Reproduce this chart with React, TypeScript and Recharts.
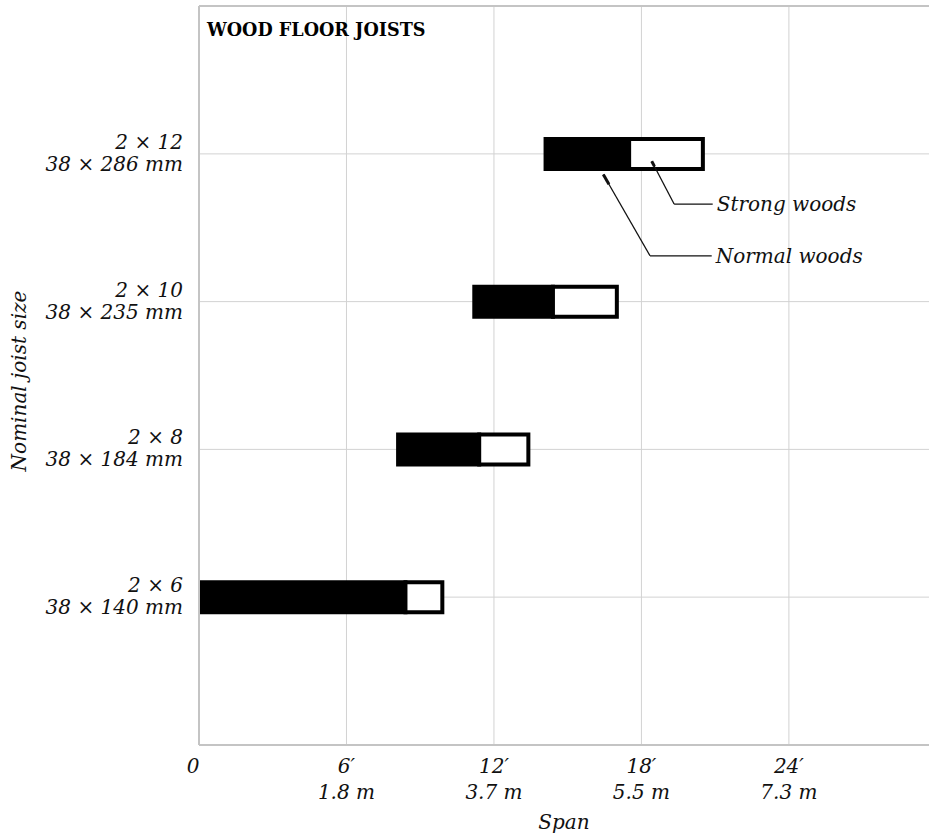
import * as React from "react";
import {
  ComposedChart,
  Bar,
  XAxis,
  YAxis,
  CartesianGrid,
  ReferenceLine,
} from "recharts";

const SIZES = ["2 × 12", "2 × 10", "2 × 8", "2 × 6"];
const METRIC_SIZES = ["38 × 286 mm", "38 × 235 mm", "38 × 184 mm", "38 × 140 mm"];
// span in feet: where the bar starts, where normal woods stop, where strong woods stop
const SPAN_START = [14.1, 11.2, 8.1, 0];
const NORMAL_END = [17.5, 14.4, 11.4, 8.4];
const STRONG_END = [20.5, 17.0, 13.4, 9.9];

const X_TICKS = [0, 6, 12, 18, 24];
const FEET_LABELS = ["0", "6′", "12′", "18′", "24′"];
const METER_LABELS = ["", "1.8 m", "3.7 m", "5.5 m", "7.3 m"];

// leader lines as [span ft, row] points, rows counted from the top of the plot
const STRONG_LEADER = [
  [18.42, 1.05],
  [19.33, 1.34],
  [20.9, 1.34],
];
const NORMAL_LEADER = [
  [16.45, 1.14],
  [18.35, 1.69],
  [20.86, 1.69],
];

const FONT = '"DejaVu Serif", serif';
const TEXT_SIZE = 20;
const GRID = "#d2d2d2";
const FRAME = "#c4c4c4";

const rows = SIZES.map((size, i) => ({
  size,
  row: i + 1,
  offset: SPAN_START[i],
  normal: NORMAL_END[i] - SPAN_START[i],
  strong: STRONG_END[i] - NORMAL_END[i],
}));

function SizeTick({ x, y, payload }: any) {
  const i = SIZES.indexOf(payload.value);
  return (
    <text textAnchor="end" fontFamily={FONT} fontStyle="italic" fontSize={TEXT_SIZE} fill="#111">
      <tspan x={x} y={y - 5}>{payload.value}</tspan>
      <tspan x={x} y={y + 17}>{METRIC_SIZES[i]}</tspan>
    </text>
  );
}

function SpanTick({ x, y, payload }: any) {
  const i = X_TICKS.indexOf(payload.value);
  return (
    <text textAnchor="middle" fontFamily={FONT} fontStyle="italic" fontSize={TEXT_SIZE} fill="#111">
      <tspan x={i === 0 ? x - 6 : x} y={y + 28}>{FEET_LABELS[i]}</tspan>
      <tspan x={x} y={y + 54}>{METER_LABELS[i]}</tspan>
    </text>
  );
}

function Leader({ points, text }: { points: number[][]; text: string }) {
  const [a, b] = points;
  // short heavy stroke where the pointer touches the bar
  const tip = { x: a[0] + (b[0] - a[0]) * 0.12, y: a[1] + (b[1] - a[1]) * 0.12 };
  return [
    <ReferenceLine
      key="tip"
      yAxisId="n"
      segment={[{ x: a[0], y: a[1] }, tip]}
      stroke="#111"
      strokeWidth={3}
    />,
    ...points.slice(1).map((p, k) => {
      const s = points[k];
      const last = k === points.length - 2;
      return (
        <ReferenceLine
          key={k}
          yAxisId="n"
          segment={[
            { x: s[0], y: s[1] },
            { x: p[0], y: p[1] },
          ]}
          stroke="#111"
          strokeWidth={1.3}
          label={
            last
              ? {
                  value: text,
                  position: "right",
                  offset: 4,
                  fontFamily: FONT,
                  fontStyle: "italic",
                  fontSize: TEXT_SIZE,
                  fill: "#111",
                }
              : undefined
          }
        />
      );
    }),
  ];
}

export default function App() {
  return (
    <div style={{ position: "absolute", left: 0, top: 0, width: 929, height: 833, background: "#fff" }}>
      <ComposedChart
        width={929}
        height={833}
        data={rows}
        layout="vertical"
        margin={{ top: 6, right: 0, bottom: 0, left: 0 }}
      >
        <CartesianGrid stroke={GRID} strokeWidth={1} verticalValues={X_TICKS} />
        <XAxis
          type="number"
          domain={[0, 29.7]}
          allowDataOverflow
          ticks={X_TICKS}
          height={88}
          tickSize={0}
          tickMargin={0}
          tick={<SpanTick />}
          axisLine={{ stroke: FRAME, strokeWidth: 2 }}
          label={{
            value: "Span",
            position: "insideBottom",
            offset: 4,
            fontFamily: FONT,
            fontStyle: "italic",
            fontSize: TEXT_SIZE,
            fill: "#111",
          }}
        />
        <YAxis
          type="category"
          dataKey="size"
          width={199}
          padding={{ top: 74, bottom: 74 }}
          tickSize={0}
          tickMargin={16}
          tick={<SizeTick />}
          axisLine={{ stroke: FRAME, strokeWidth: 2 }}
          label={() => (
            <text
              transform="translate(26, 381) rotate(-90)"
              textAnchor="middle"
              fontFamily={FONT}
              fontStyle="italic"
              fontSize={TEXT_SIZE}
              fill="#111"
            >
              Nominal joist size
            </text>
          )}
        />
        <YAxis yAxisId="n" type="number" dataKey="row" domain={[0, 5]} allowDataOverflow hide />
        <ReferenceLine yAxisId="n" y={0} stroke={FRAME} strokeWidth={2} />
        <Bar dataKey="offset" stackId="s" barSize={30} fill="transparent" isAnimationActive={false} />
        <Bar
          dataKey="normal"
          stackId="s"
          barSize={30}
          fill="#000"
          stroke="#000"
          strokeWidth={4}
          isAnimationActive={false}
        />
        <Bar
          dataKey="strong"
          stackId="s"
          barSize={30}
          fill="#fff"
          stroke="#000"
          strokeWidth={4}
          isAnimationActive={false}
        />
        {Leader({ points: STRONG_LEADER, text: "Strong woods" })}
        {Leader({ points: NORMAL_LEADER, text: "Normal woods" })}
      </ComposedChart>
      <div
        style={{
          position: "absolute",
          left: 207,
          top: 19,
          fontFamily: FONT,
          fontWeight: "bold",
          fontSize: 17.6,
          lineHeight: "22px",
          color: "#000",
        }}
      >
        WOOD FLOOR JOISTS
      </div>
    </div>
  );
}
